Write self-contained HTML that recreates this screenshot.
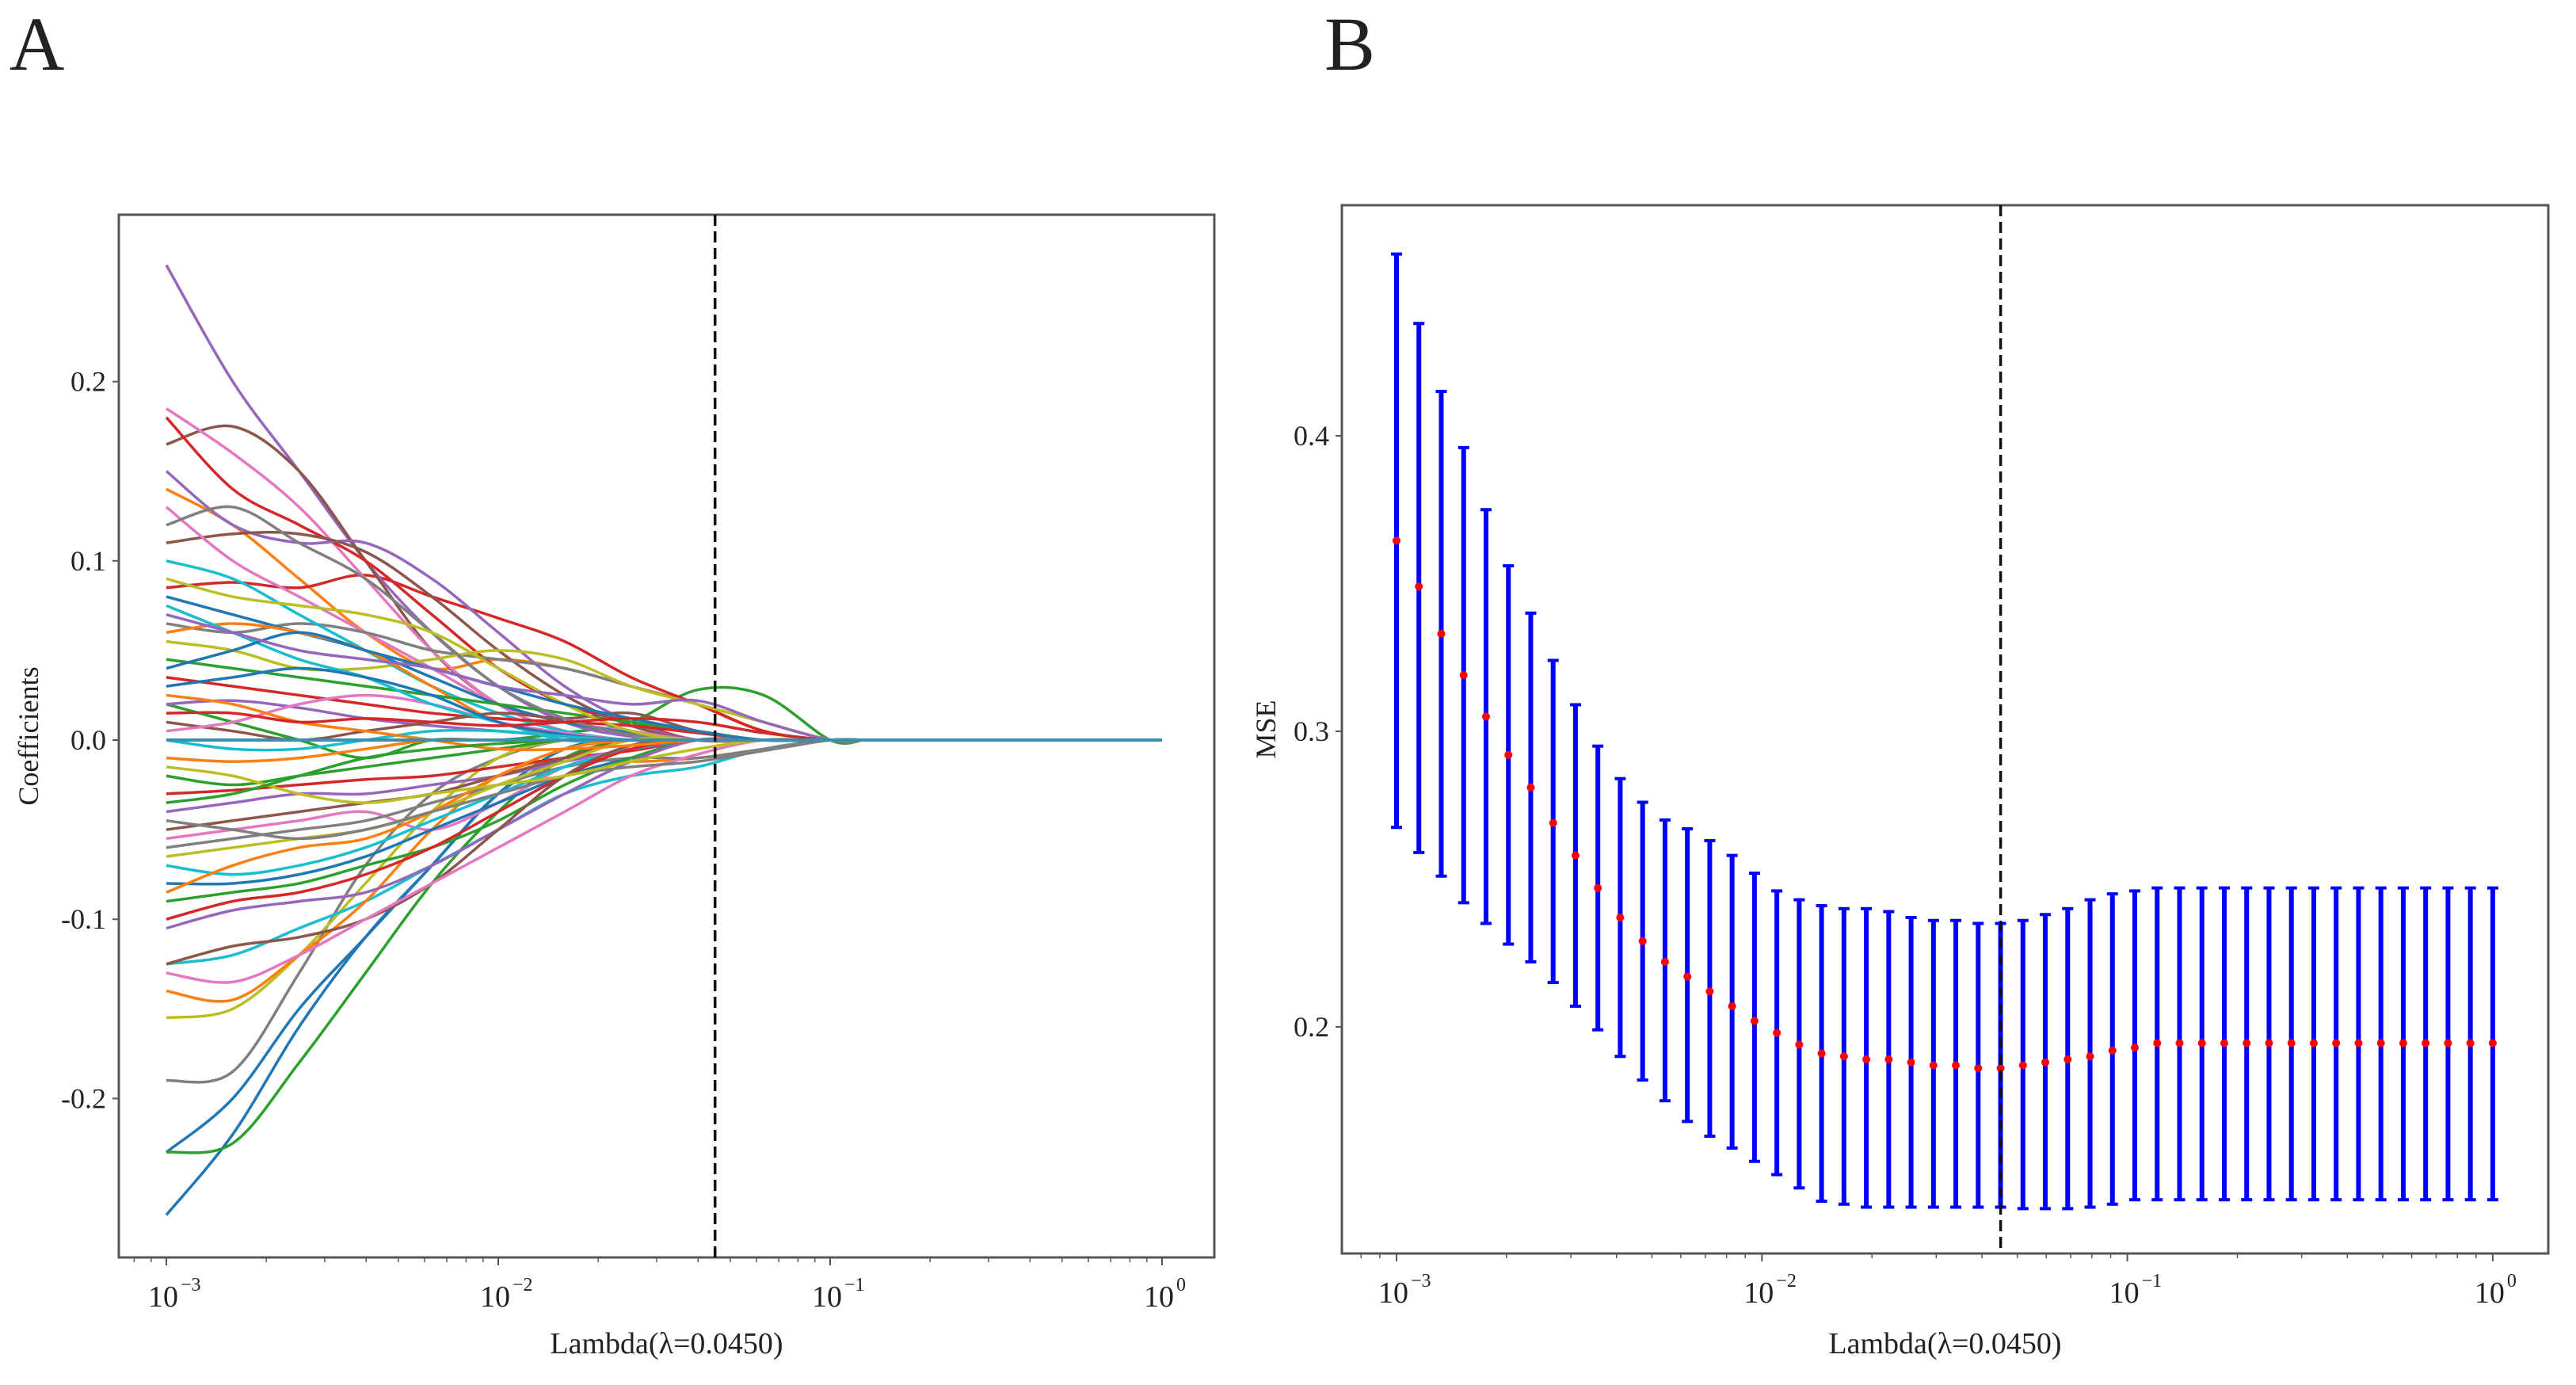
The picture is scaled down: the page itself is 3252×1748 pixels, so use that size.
<!DOCTYPE html>
<html><head><meta charset="utf-8"><style>
html,body{margin:0;padding:0;background:#fff}
svg{display:block}
text{font-family:"Liberation Serif",serif;fill:#222}
</style></head><body>
<svg id="fig" width="3252" height="1748" viewBox="0 0 3252 1748" xmlns="http://www.w3.org/2000/svg">
<text x="12" y="88" font-size="96">A</text>
<text x="1672" y="88" font-size="96">B</text>
<g id="pa"></g>
<g id="pb"></g>
</svg>
<script>
// ---- Panel A data (coefficient paths at log10 lambda knots) ----
const knotsLog = [-3,-2.8,-2.6,-2.4,-2.2,-2.0,-1.8,-1.6,-1.4,-1.2,-1.0];
const coefPaths = [
[-0.265,-0.22,-0.16,-0.11,-0.07,-0.03,-0.01,0,0,0,0],
[0.14,0.12,0.09,0.06,0.04,0.045,0.04,0.03,0.02,0.005,0],
[0.02,0.01,0.0,-0.01,0,0,0.004,0.01,0.028,0.025,0],
[0.085,0.088,0.085,0.092,0.08,0.068,0.055,0.035,0.02,0.005,0],
[0.265,0.20,0.15,0.10,0.06,0.03,0.01,0.002,0,0,0],
[0.165,0.175,0.15,0.10,0.05,0.02,0.005,0,0,0,0],
[0.185,0.16,0.13,0.09,0.05,0.02,0.005,0,0,0,0],
[-0.19,-0.185,-0.13,-0.07,-0.03,-0.01,0,0,0,0,0],
[-0.155,-0.15,-0.12,-0.08,-0.04,-0.01,0,0,0,0,0],
[-0.125,-0.12,-0.105,-0.09,-0.07,-0.05,-0.03,-0.02,-0.015,-0.005,0],
[-0.23,-0.2,-0.15,-0.11,-0.07,-0.03,-0.005,0,0,0,0],
[-0.14,-0.145,-0.12,-0.09,-0.05,-0.02,-0.01,-0.012,-0.01,-0.005,0],
[-0.23,-0.225,-0.18,-0.13,-0.08,-0.04,-0.01,0,0,0,0],
[0.18,0.14,0.12,0.10,0.07,0.04,0.02,0.01,0,0,0],
[0.15,0.12,0.11,0.11,0.09,0.06,0.03,0.01,0,0,0],
[0.11,0.115,0.115,0.105,0.08,0.05,0.025,0.008,0,0,0],
[0.13,0.10,0.08,0.06,0.04,0.02,0.01,0.005,0,0,0],
[0.065,0.06,0.065,0.06,0.05,0.045,0.04,0.03,0.02,0.01,0],
[0.055,0.05,0.04,0.04,0.045,0.05,0.045,0.03,0.02,0.01,0],
[0.10,0.09,0.07,0.05,0.03,0.015,0.005,0,0,0,0],
[0.08,0.07,0.06,0.05,0.035,0.02,0.01,0.004,0,0,0],
[0.06,0.065,0.06,0.05,0.03,0.01,0.003,0,0,0,0],
[0.045,0.04,0.035,0.03,0.025,0.02,0.015,0.01,0.005,0,0],
[0.035,0.03,0.025,0.02,0.015,0.012,0.01,0.008,0.004,0,0],
[0.02,0.022,0.018,0.012,0.008,0.005,0.002,0,0,0,0],
[0.01,0.005,0.0,0.005,0.01,0.015,0.012,0.015,0.005,0,0],
[0.005,0.01,0.02,0.025,0.02,0.01,0.004,0,0,0,0],
[0.12,0.13,0.11,0.09,0.06,0.03,0.012,0.003,0,0,0],
[0.09,0.08,0.075,0.07,0.06,0.04,0.02,0.005,0,0,0],
[0.075,0.06,0.045,0.035,0.02,0.01,0,0,0,0,0],
[0.03,0.035,0.04,0.035,0.025,0.01,0.003,0,0,0,0],
[-0.01,-0.012,-0.01,-0.005,0,0,0,0,0,0,0],
[-0.02,-0.025,-0.02,-0.015,-0.01,-0.005,0,0,0,0,0],
[-0.03,-0.028,-0.025,-0.022,-0.02,-0.015,-0.01,-0.006,0,0,0],
[-0.04,-0.035,-0.03,-0.03,-0.025,-0.02,-0.012,-0.005,0,0,0],
[-0.05,-0.045,-0.04,-0.035,-0.03,-0.02,-0.01,0,0,0,0],
[-0.055,-0.05,-0.045,-0.04,-0.05,-0.035,-0.015,-0.005,0,0,0],
[-0.06,-0.055,-0.05,-0.045,-0.035,-0.025,-0.015,-0.01,-0.01,-0.005,0],
[-0.065,-0.06,-0.055,-0.05,-0.04,-0.025,-0.012,0,0,0,0],
[-0.07,-0.075,-0.07,-0.06,-0.045,-0.03,-0.015,-0.005,0,0,0],
[-0.08,-0.08,-0.075,-0.065,-0.05,-0.035,-0.02,-0.01,0,0,0],
[-0.085,-0.07,-0.06,-0.055,-0.04,-0.02,-0.005,0,0,0,0],
[-0.09,-0.085,-0.08,-0.07,-0.06,-0.045,-0.025,-0.01,0,0,0],
[-0.10,-0.09,-0.085,-0.075,-0.06,-0.04,-0.02,-0.005,0,0,0],
[-0.105,-0.095,-0.09,-0.085,-0.07,-0.05,-0.03,-0.012,0,0,0],
[-0.125,-0.115,-0.11,-0.10,-0.08,-0.05,-0.02,-0.003,0,0,0],
[-0.13,-0.135,-0.12,-0.10,-0.08,-0.06,-0.04,-0.02,-0.008,0,0],
[-0.045,-0.05,-0.055,-0.05,-0.04,-0.03,-0.02,-0.015,-0.012,-0.006,0],
[-0.015,-0.02,-0.03,-0.035,-0.03,-0.025,-0.02,-0.012,-0.005,0,0],
[0.0,-0.005,-0.005,0,0.005,0.005,0.002,0,0,0,0],
[0.04,0.05,0.06,0.05,0.04,0.03,0.02,0.012,0.005,0,0],
[0.025,0.02,0.01,0.005,0.0,-0.005,-0.005,-0.003,0,0,0],
[-0.035,-0.03,-0.02,-0.01,-0.005,-0.002,0,0,0,0,0],
[0.015,0.015,0.01,0.012,0.01,0.008,0.01,0.012,0.01,0.004,0],
[0.07,0.06,0.05,0.045,0.04,0.03,0.025,0.02,0.022,0.01,0]
];
const palette = ["#1f77b4","#ff7f0e","#2ca02c","#d62728","#9467bd","#8c564b","#e377c2","#7f7f7f","#bcbd22","#17becf"];
const aYTicks = [0.2,0.1,0.0,-0.1,-0.2];
const aYTickLabels = ["0.2","0.1","0.0","-0.1","-0.2"];
const xDecades = [-3,-2,-1,0];
const xDecadeLabels = ["-3","-2","-1","0"];
const lambdaChosen = 0.0450;

// ---- Panel B data ----
const mseMean = [0.3645,0.349,0.333,0.319,0.305,0.292,0.281,0.269,0.258,0.247,0.237,0.229,0.222,0.217,0.212,0.207,0.202,0.198,0.194,0.191,0.190,0.189,0.189,0.188,0.187,0.187,0.186,0.186,0.187,0.188,0.189,0.190,0.192,0.193,0.1945,0.1945,0.1945,0.1945,0.1945,0.1945,0.1945,0.1945,0.1945,0.1945,0.1945,0.1945,0.1945,0.1945,0.1945,0.1945];
const mseUpper = [0.4615,0.438,0.415,0.396,0.375,0.356,0.340,0.324,0.309,0.295,0.284,0.276,0.270,0.267,0.263,0.258,0.252,0.246,0.243,0.241,0.240,0.240,0.239,0.237,0.236,0.236,0.235,0.235,0.236,0.238,0.240,0.243,0.245,0.246,0.247,0.247,0.247,0.247,0.247,0.247,0.247,0.247,0.247,0.247,0.247,0.247,0.247,0.247,0.247,0.247];
const mseLower = [0.2675,0.259,0.251,0.242,0.235,0.228,0.222,0.215,0.207,0.199,0.190,0.182,0.175,0.168,0.163,0.159,0.1545,0.150,0.1455,0.141,0.140,0.139,0.139,0.139,0.139,0.139,0.139,0.139,0.1385,0.1385,0.1385,0.139,0.140,0.1415,0.1415,0.1415,0.1415,0.1415,0.1415,0.1415,0.1415,0.1415,0.1415,0.1415,0.1415,0.1415,0.1415,0.1415,0.1415,0.1415];
const bYTicks = [0.4,0.3,0.2];
const bYTickLabels = ["0.4","0.3","0.2"];

const NS="http://www.w3.org/2000/svg";
function mk(tag,attrs,parent){const e=document.createElementNS(NS,tag);for(const k in attrs)e.setAttribute(k,attrs[k]);parent.appendChild(e);return e;}

function axes(g,box,xs,ys,yTicks,yLabels,ylab,ylabX){
  const fr=mk('rect',{x:box.l,y:box.t,width:box.r-box.l,height:box.b-box.t,fill:'none',stroke:'#555','stroke-width':3},g);
  
  
  yTicks.forEach((v,i)=>{
    const y=ys(v);
    mk('line',{x1:box.l-8,x2:box.l,y1:y,y2:y,stroke:'#555','stroke-width':2},g);
    const t=mk('text',{x:box.l-16,y:y+12,'font-size':36,'text-anchor':'end'},g);
    t.textContent=yLabels[i];
    
    
  });
  xDecades.forEach((d,i)=>{
    const x=xs(d);
    mk('line',{x1:x,x2:x,y1:box.b,y2:box.b+10,stroke:'#555','stroke-width':2},g);
    const t=mk('text',{x:x-4,y:box.b+62,'font-size':38,'text-anchor':'middle'},g);
    t.textContent='10';
    
    
    const s=mk('text',{x:x+18,y:box.b+42,'font-size':24,'text-anchor':'start'},g);
    s.textContent=xDecadeLabels[i].charAt(0)==='-'?'\u2212'+xDecadeLabels[i].slice(1):xDecadeLabels[i];
    
    
  });
  for(let d=-4;d<=0;d++)for(let m=2;m<=9;m++){
    const lx=d+Math.log10(m);const x=xs(lx);
    if(x>box.l+2&&x<box.r-2)mk('line',{x1:x,x2:x,y1:box.b,y2:box.b+6,stroke:'#555','stroke-width':1.5},g);
  }
  const xl=mk('text',{x:(box.l+box.r)/2,y:1708,'font-size':38,'text-anchor':'middle'},g);
  xl.textContent='Lambda(\u03bb=0.0450)';
  
  
  const yc=(box.t+box.b)/2;
  const yl=mk('text',{x:ylabX,y:yc,'font-size':36,'text-anchor':'middle',transform:`rotate(-90 ${ylabX} ${yc})`},g);
  yl.textContent=ylab;
  
  
  const vx=xs(Math.log10(lambdaChosen));
  const vl=mk('line',{x1:vx,x2:vx,y1:box.t,y2:box.b,stroke:'#111','stroke-width':3.5,'stroke-dasharray':'14,7'},g);
  
  
}

// Panel A
(function(){
  const g=document.getElementById('pa');
  const box={l:150,r:1533,t:271,b:1587};
  const xs=v=>210+(v+3)*419;
  const ys=v=>934-v*2262;
  const cg=mk('g',{},g);
  
  
  coefPaths.forEach((vals,si)=>{
    const pts=vals.map((v,i)=>[xs(knotsLog[i]),ys(v)]);
    pts.push([xs(-0.9),ys(0)]);
    let d=`M${pts[0][0]},${pts[0][1]}`;
    for(let i=0;i<pts.length-1;i++){
      const p0=pts[Math.max(0,i-1)],p1=pts[i],p2=pts[i+1],p3=pts[Math.min(pts.length-1,i+2)];
      const c1=[p1[0]+(p2[0]-p0[0])/6,p1[1]+(p2[1]-p0[1])/6];
      const c2=[p2[0]-(p3[0]-p1[0])/6,p2[1]-(p3[1]-p1[1])/6];
      d+=` C${c1[0]},${c1[1]} ${c2[0]},${c2[1]} ${p2[0]},${p2[1]}`;
    }
    d+=` L${xs(0)},${ys(0)}`;
    const p=mk('path',{d,fill:'none',stroke:palette[si%10],'stroke-width':3.5},cg);
    
    
  });
  const z=mk('line',{x1:xs(-3),x2:xs(0),y1:ys(0),y2:ys(0),stroke:'#3a8fb0','stroke-width':4},cg);
  
  
  axes(g,box,xs,ys,aYTicks,aYTickLabels,'Coefficients',48);
})();

// Panel B
(function(){
  const g=document.getElementById('pb');
  const box={l:1694,r:3217,t:259,b:1582};
  const xs=v=>1763+(v+3)*461.3;
  const ys=v=>1296-(v-0.2)*3730;
  const n=mseMean.length;
  const lx=i=>-3+3*i/(n-1);
  const eg=mk('g',{},g);
  
  
  for(let i=0;i<n;i++){
    const x=xs(lx(i));
    const b=mk('line',{x1:x,x2:x,y1:ys(mseUpper[i]),y2:ys(mseLower[i]),stroke:'#0000ff','stroke-width':6},eg);
    
    
    mk('line',{x1:x-7,x2:x+7,y1:ys(mseUpper[i]),y2:ys(mseUpper[i]),stroke:'#0000ff','stroke-width':4},eg);
    mk('line',{x1:x-7,x2:x+7,y1:ys(mseLower[i]),y2:ys(mseLower[i]),stroke:'#0000ff','stroke-width':4},eg);
  }
  for(let i=0;i<n;i++){
    const c=mk('circle',{cx:xs(lx(i)),cy:ys(mseMean[i]),r:5,fill:'#ff0000'},eg);
    
    
  }
  axes(g,box,xs,ys,bYTicks,bYTickLabels,'MSE',1610);
})();
</script>
</body></html>
